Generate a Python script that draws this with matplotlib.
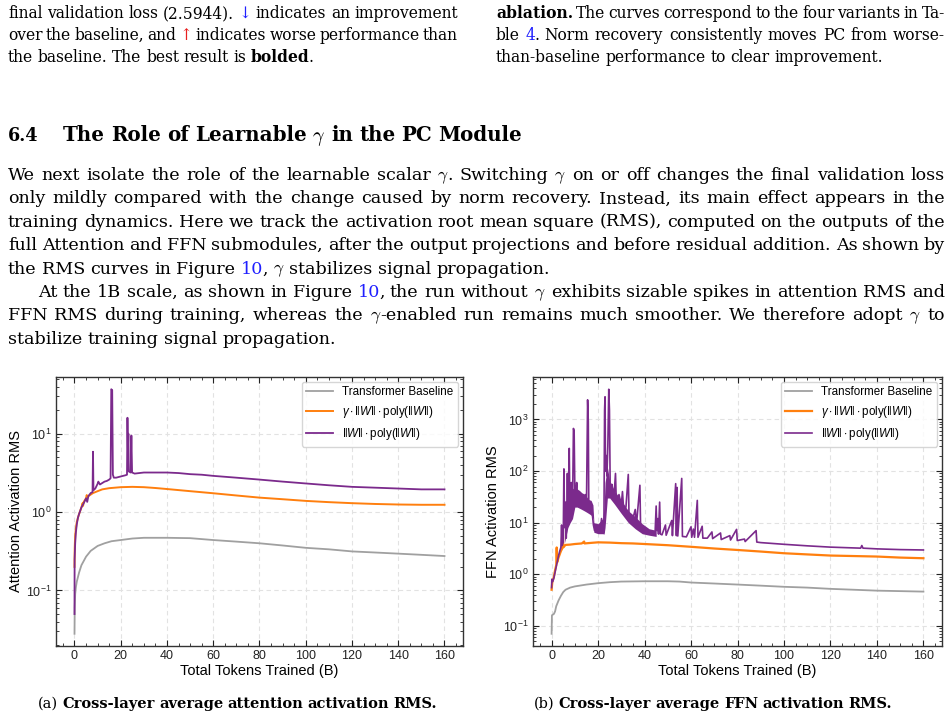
import matplotlib
matplotlib.use("Agg")
import matplotlib.pyplot as plt
from matplotlib.transforms import IdentityTransform
from matplotlib.ticker import MultipleLocator

# ---------------------------------------------------------
# data (x = tokens in B)
# ---------------------------------------------------------
att_base_x = [0, 0.1, 0.3, 0.6, 1, 2, 3, 5, 7, 10, 13, 16, 20, 25, 30, 40, 50, 60,
              70, 80, 90, 100, 110, 120, 130, 140, 150, 160]
att_base_y = [0.028, 0.06, 0.09, 0.11, 0.13, 0.17, 0.21, 0.27, 0.32, 0.37, 0.4, 0.425,
              0.44, 0.46, 0.47, 0.47, 0.465, 0.44, 0.42, 0.4, 0.375, 0.35, 0.335,
              0.315, 0.305, 0.295, 0.285, 0.275]

att_gam_x = [0, 0.1, 0.3, 0.6, 1, 1.5, 2, 3, 3.5, 3.7, 4, 5, 5.3, 5.5, 6, 8, 10, 12,
             15, 20, 25, 30, 35, 40, 50, 60, 70, 80, 90, 100, 110, 120, 130, 140,
             150, 160]
att_gam_y = [0.2, 0.35, 0.5, 0.62, 0.75, 0.85, 0.95, 1.15, 1.3, 1.2, 1.35, 1.5, 1.65,
             1.5, 1.6, 1.75, 1.85, 1.95, 2.02, 2.08, 2.1, 2.08, 2.03, 1.97, 1.85,
             1.74, 1.63, 1.53, 1.46, 1.39, 1.34, 1.3, 1.27, 1.25, 1.24, 1.24]

att_nog_x = [0, 0.05, 0.3, 0.6, 1, 1.5, 2, 3, 4, 5, 5.5, 6, 7, 7.8, 8.0, 8.2, 9, 10,
             10.3, 11, 12, 13, 14, 15, 15.6, 15.9, 16.3, 16.6, 17, 18, 20, 22, 22.7,
             22.9, 23.1, 23.3, 23.5, 24.3, 24.6, 24.9, 26, 28, 30, 35, 40, 45, 50,
             55, 60, 70, 80, 90, 100, 110, 120, 130, 140, 150, 160]
att_nog_y = [0.05, 0.25, 0.4, 0.55, 0.7, 0.85, 0.95, 1.15, 1.3, 1.5, 1.35, 1.6, 1.75,
             1.8, 5.9, 1.9, 2.0, 2.3, 2.45, 2.25, 2.35, 2.45, 2.5, 2.6, 2.7, 37, 36,
             3.0, 2.75, 2.75, 2.85, 2.95, 3.0, 16, 6, 10, 3.3, 3.2, 9.5, 3.2, 3.1,
             3.15, 3.2, 3.2, 3.2, 3.15, 3.05, 3.0, 2.9, 2.75, 2.6, 2.45, 2.32, 2.2,
             2.1, 2.05, 2.0, 1.95, 1.95]

ffn_base_x = [0, 0.15, 1, 1.5, 2, 3, 4, 5, 6, 8, 10, 15, 20, 25, 30, 40, 50, 55, 60,
              70, 80, 90, 100, 110, 120, 130, 140, 150, 160]
ffn_base_y = [0.07, 0.16, 0.17, 0.19, 0.24, 0.31, 0.38, 0.45, 0.5, 0.55, 0.58, 0.63,
              0.67, 0.7, 0.72, 0.73, 0.73, 0.72, 0.69, 0.66, 0.63, 0.6, 0.57, 0.55,
              0.52, 0.5, 0.48, 0.47, 0.46]

ffn_gam_x = [0, 0.3, 1, 1.5, 2, 2.2, 2.4, 3, 4, 4.5, 4.8, 5.0, 5.5, 6, 8, 10, 13, 14,
             14.2, 17, 20, 25, 30, 35, 40, 50, 60, 70, 80, 90, 100, 110, 120, 130,
             140, 150, 160]
ffn_gam_y = [0.5, 0.7, 0.9, 1.2, 1.5, 3.3, 1.7, 2.1, 2.8, 3.1, 8.5, 3.3, 3.5, 3.7,
             3.75, 3.85, 3.95, 4.3, 3.95, 4.05, 4.15, 4.1, 4.0, 3.95, 3.85, 3.65,
             3.4, 3.15, 2.95, 2.75, 2.55, 2.42, 2.3, 2.25, 2.2, 2.1, 2.04]

ffn_nog_x = [0, 0.1, 0.5, 1.0, 1.5, 2.0, 2.5, 3.0, 3.5, 4.0, 4.3, 4.5, 5.0, 5.3, 5.6,
             6.0, 6.3, 6.6, 6.8, 7.0, 7.3, 7.6, 7.9, 8.2, 8.5, 8.8, 9.1, 9.4, 9.7,
             10.0, 10.4, 10.8, 11.2, 11.6, 12.0, 12.5, 13.0, 13.5, 14.0, 14.5, 15.0,
             15.5, 15.8, 16.0, 16.5, 17.0, 17.5, 18.0, 18.5, 19.0, 20.0, 20.5, 21.0,
             21.5, 22.0, 22.5, 22.8, 23.0, 23.2, 23.5, 23.8, 24.2, 24.6, 24.9, 25.2,
             25.6, 26.0, 26.5, 27.0, 27.5, 27.8, 28.5, 29.0, 30.0, 30.5, 31.0, 32.0,
             33.0, 33.3, 34.0, 35.0, 36.0, 36.5, 38.0, 38.3, 39.0, 40.0, 41.0, 42.0,
             43.0, 44.5, 45.0, 45.3, 45.7, 46.0, 46.5, 46.8, 47.5, 49.0, 49.3, 51.7,
             52.0, 53.4, 53.7, 54.0, 54.3, 56.0, 56.3, 58.0, 60.0, 60.3, 61.0, 61.5,
             62.7, 63.0, 64.8, 65.1, 67.0, 69.0, 69.3, 72.7, 73.0, 76.7, 77.0, 79.6,
             79.9, 83.0, 83.3, 88.0, 88.3, 90.0, 100.0, 110.0, 120.0, 133.0, 133.5,
             134.0, 140.0, 150.0, 160.0]
ffn_nog_y = [0.55, 0.8, 0.72, 0.85, 1.1, 1.4, 1.8, 2.3, 2.8, 3.3, 9.0, 3.6, 4.2, 110,
             8, 25, 5, 12, 90, 10, 30, 275, 15, 45, 60, 18, 40, 670, 600, 45, 35, 60,
             30, 40, 28, 35, 25, 32, 22, 35, 20, 2400, 900, 25, 18, 22, 15, 9, 7, 8,
             6.5, 9, 7, 12, 7, 6.5, 1500, 2750, 100, 200, 80, 300, 3860, 1500, 60,
             45, 55, 35, 40, 90, 30, 28, 35, 22, 40, 18, 20, 86, 15, 14, 12, 18, 9,
             53, 8, 8, 6.5, 7, 6.2, 6.0, 5.8, 21, 7, 12, 6, 25, 6, 5.8, 9, 5.7, 11,
             5.6, 57, 5.6, 48, 5.5, 72, 5.4, 5.3, 8.3, 5.2, 7.5, 5.2, 27, 5.2, 8.5,
             5.0, 5.0, 6.6, 4.9, 6.3, 4.7, 5.6, 4.6, 7.4, 4.5, 4.8, 4.3, 7.0, 4.2,
             4.1, 3.8, 3.55, 3.35, 3.2, 3.6, 3.2, 3.1, 3.0, 2.95]

# thick noisy band of the run without gamma (low / high edge)
band_x = [5.5, 6, 7, 8, 9, 10, 11, 12, 13, 14, 15, 16, 17, 17.8, 18.2, 20, 22, 22.6,
          23, 24, 25, 27, 30, 33, 36, 39, 42, 45]
band_lo = [4, 5, 8, 10, 12, 20, 20, 19, 18, 17, 16, 15, 14, 12, 6.5, 6.1, 6.1, 6,
           8, 30, 30, 23, 15, 10, 7.6, 6.1, 5.7, 5.4]
band_hi = [20, 25, 30, 40, 45, 50, 45, 42, 38, 36, 32, 28, 27, 22, 10, 9.5, 12, 20,
           60, 120, 65, 42, 27, 17, 13, 9.5, 7.6, 7.1]

labels = ["Transformer Baseline",
          r"$\gamma \cdot \Vert W \Vert \cdot \mathrm{poly}(\Vert W \Vert)$",
          r"$\Vert W \Vert \cdot \mathrm{poly}(\Vert W \Vert)$"]
c_base, c_gam, c_nog = "#a0a0a0", "#ff7f0e", "#7b2a8c"

# ---------------------------------------------------------
plt.rcParams["font.family"] = ["Liberation Sans", "DejaVu Sans"]
plt.rcParams["mathtext.fontset"] = "custom"
plt.rcParams["mathtext.rm"] = "Liberation Sans"
plt.rcParams["mathtext.it"] = "Liberation Sans:italic"
plt.rcParams["mathtext.bf"] = "Liberation Sans:bold"

W, H = 953, 720
fig = plt.figure(figsize=(W / 100, H / 100), dpi=100)
fig.patch.set_facecolor("white")

ax1 = fig.add_axes([56 / W, 1 - 646 / H, (463 - 56) / W, (646 - 377) / H])
ax2 = fig.add_axes([533 / W, 1 - 646 / H, (942 - 533) / W, (646 - 377) / H])

ax1.plot(att_base_x, att_base_y, color=c_base, lw=1.3, label=labels[0])
ax1.plot(att_gam_x, att_gam_y, color=c_gam, lw=1.4, label=labels[1])
ax1.plot(att_nog_x, att_nog_y, color=c_nog, lw=1.3, label=labels[2])

ax2.plot(ffn_base_x, ffn_base_y, color=c_base, lw=1.3, label=labels[0])
ax2.plot(ffn_gam_x, ffn_gam_y, color=c_gam, lw=1.6, label=labels[1])
ax2.fill_between(band_x, band_lo, band_hi, color=c_nog, lw=0)
ax2.plot(ffn_nog_x, ffn_nog_y, color=c_nog, lw=1.2, label=labels[2])


def style(ax, ylabel):
    ax.set_yscale("log")
    ax.set_xlabel("Total Tokens Trained (B)", fontsize=10.5, labelpad=1)
    ax.set_ylabel(ylabel, fontsize=10.5, labelpad=2)
    ax.xaxis.set_major_locator(MultipleLocator(20))
    ax.xaxis.set_minor_locator(MultipleLocator(5))
    ax.tick_params(which="both", direction="in", top=True, right=True, labelsize=9,
                   colors="#222222")
    ax.tick_params(which="major", length=4, pad=3)
    ax.tick_params(which="minor", length=2)
    ax.grid(True, which="major", ls=(0, (4, 3)), color="#e2e2e2", lw=0.8)
    ax.set_axisbelow(True)
    for s in ax.spines.values():
        s.set_linewidth(1.0)
        s.set_color("#333333")
    ax.legend(loc="upper right", fontsize=8.4, handlelength=2.3, framealpha=0.8,
              edgecolor="#cccccc", borderaxespad=0.4)


style(ax1, "Attention Activation RMS")
style(ax2, "FFN Activation RMS")

# ---------------------------------------------------------
# page text around the figure (justified lines)
# ---------------------------------------------------------
SERIF = ["DejaVu Serif"]
STYLES = {"*": dict(weight="bold"), "~": dict(color="#1f1fff"), "^": dict(color="#e81f1f")}
BODY = 12.6
SMALL = 11.2
rend = fig.canvas.get_renderer()


def make_words(line, base, size):
    words = []
    for w in line.split(" "):
        pieces = []
        for seg in w.split("|"):
            kw = {}
            while seg and seg[0] in STYLES:
                kw.update(STYLES[seg[0]])
                seg = seg[1:]
            t = fig.text(0, H - base, seg, fontsize=size, family=SERIF, va="baseline",
                         transform=IdentityTransform(), math_fontfamily="cm", **kw)
            pieces.append((t, t.get_window_extent(rend).width))
        words.append(pieces)
    return words


def put_line(line, x0, base, x1=None, size=BODY, center=None, fit=None):
    space = 0.3 * size * 100 / 72
    words = make_words(line, base, size)
    if fit is not None:
        natural = sum(p[1] for w in words for p in w) + space * (len(words) - 1)
        for w in words:
            for t, _ in w:
                t.remove()
        size = size * fit / natural
        space = 0.3 * size * 100 / 72
        words = make_words(line, base, size)
    wsum = [sum(p[1] for p in w) - 1.0 * (len(w) - 1) for w in words]
    if x1 is not None and len(words) > 1:
        gap = (x1 - x0 - sum(wsum)) / (len(words) - 1)
    else:
        gap = space
    if center is not None:
        x0 = center - (sum(wsum) + gap * (len(words) - 1)) / 2
    x = x0
    for w, ws in zip(words, wsum):
        xx = x
        for t, tw in w:
            t.set_x(xx)
            xx += tw - 1.0
        x += ws + gap


put_line("final validation loss (2.5944). ~↓ indicates an improvement", 8, 18, 458,
         size=SMALL)
put_line("over the baseline, and ^↑ indicates worse performance than", 8, 40, 458,
         size=SMALL)
put_line("the baseline. The best result is *bolded|.", 8, 62, size=SMALL)
put_line("*ablation. The curves correspond to the four variants in Ta-", 496, 18, 945,
         size=SMALL)
put_line("ble ~4|. Norm recovery consistently moves PC from worse-", 496, 40, 945,
         size=SMALL)
put_line("than-baseline performance to clear improvement.", 496, 62, size=SMALL)

put_line("*6.4", 8, 141, size=15, fit=31)
put_line(r"*The *Role *of *Learnable $\gamma$ *in *the *PC *Module", 63, 141,
         size=15, fit=461)

body_l, body_r = 8, 945
put_line(r"We next isolate the role of the learnable scalar $\gamma$|. Switching $\gamma$ "
         r"on or off changes the final validation loss", body_l, 180, body_r)
put_line("only mildly compared with the change caused by norm recovery. Instead, its "
         "main effect appears in the", body_l, 203.4, body_r)
put_line("training dynamics. Here we track the activation root mean square (RMS), "
         "computed on the outputs of the", body_l, 226.8, body_r)
put_line("full Attention and FFN submodules, after the output projections and before "
         "residual addition. As shown by", body_l, 250.2, body_r)
put_line(r"the RMS curves in Figure ~10|, $\gamma$ stabilizes signal propagation.",
         body_l, 273.6)
put_line(r"At the 1B scale, as shown in Figure ~10|, the run without $\gamma$ exhibits "
         r"sizable spikes in attention RMS and", 38, 297, body_r)
put_line(r"FFN RMS during training, whereas the $\gamma$|-enabled run remains much "
         r"smoother. We therefore adopt $\gamma$ to", body_l, 320.4, body_r)
put_line("stabilize training signal propagation.", body_l, 343.8)

put_line("(a) *Cross-layer *average *attention *activation *RMS.", 0, 708,
         center=237.5, fit=399)
put_line("(b) *Cross-layer *average *FFN *activation *RMS.", 0, 708,
         center=713, fit=360)

fig.savefig("out.png", dpi=100)
